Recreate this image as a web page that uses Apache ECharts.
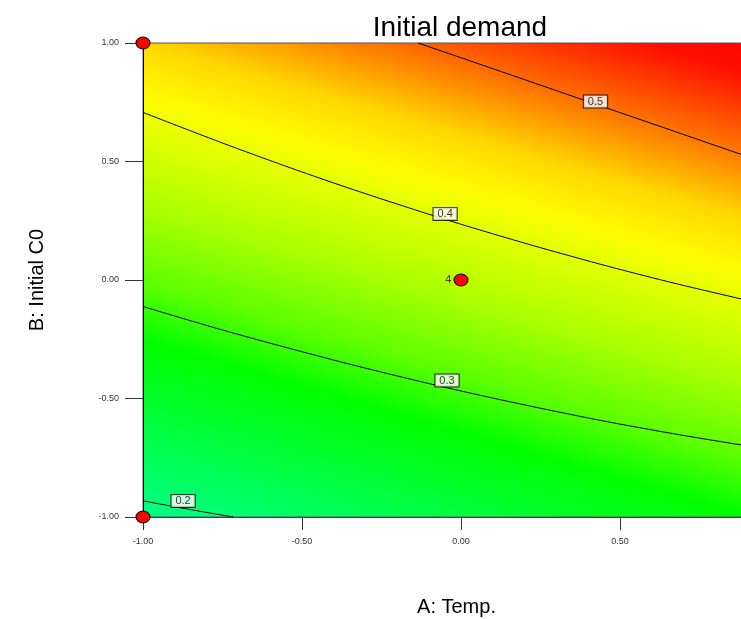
<!DOCTYPE html>
<html>
<head>
<meta charset="utf-8">
<script src="https://cdn.jsdelivr.net/npm/echarts@6/dist/echarts.min.js"></script>
<style>html,body{margin:0;padding:0;background:#fff;}#c{width:741px;height:619px;}</style>
</head>
<body>
<div id="c"></div>
<script>
// Axis ticks (coded factor levels)
var axisMin = -1, axisMax = 1, axisStep = 0.5;

// Contour lines: [A: Temp., B: Initial C0]
var contour05 = [[-0.135, 1.000], [0.123, 0.881], [0.425, 0.741], [0.689, 0.619], [0.881, 0.530], [1.0, 0.475]];
var contour04 = [[-1.0, 0.707], [-0.758, 0.582], [-0.538, 0.474], [-0.318, 0.372], [-0.050, 0.256], [0.186, 0.161], [0.437, 0.067], [0.657, -0.009], [0.881, -0.080], [1.0, -0.116]];
var contour03 = [[-1.0, -0.112], [-0.758, -0.208], [-0.538, -0.289], [-0.318, -0.366], [-0.050, -0.453], [0.186, -0.523], [0.437, -0.592], [0.657, -0.646], [0.881, -0.696], [1.0, -0.721]];
var contour02 = [[-1.0, -0.932], [-0.858, -0.967], [-0.716, -1.0]];

// Contour labels: [A, B, text]
var contourLabels = [[0.423, 0.753, '0.5'], [-0.050, 0.279, '0.4'], [-0.044, -0.424, '0.3'], [-0.874, -0.932, '0.2']];

// Design points: [A, B, replicate label]
var designPoints = [[-1, 1, ''], [-1, -1, ''], [0, 0, '4'], [1, 1, ''], [1, -1, '']];

var FONT = 'Liberation Sans, Arial, sans-serif';
var chart = echarts.init(document.getElementById('c'));

function lineSeries(d) {
  return {
    type: 'line', data: d, smooth: 0.3, showSymbol: false, symbol: 'none',
    lineStyle: {color: '#000', width: 1}, silent: true, z: 3, clip: true
  };
}

var bg = new echarts.graphic.LinearGradient(0.36, 1.1475, 0.6405, -0.1495, [
  {offset: 0.00, color: 'rgb(0,255,140)'},
  {offset: 0.19, color: 'rgb(0,255,40)'},
  {offset: 0.27, color: 'rgb(0,255,0)'},
  {offset: 0.355, color: 'rgb(90,255,0)'},
  {offset: 0.47, color: 'rgb(170,255,0)'},
  {offset: 0.60, color: 'rgb(235,255,0)'},
  {offset: 0.64, color: 'rgb(255,250,0)'},
  {offset: 0.716, color: 'rgb(255,215,0)'},
  {offset: 0.823, color: 'rgb(255,110,0)'},
  {offset: 0.933, color: 'rgb(255,15,0)'},
  {offset: 1.00, color: 'rgb(255,0,0)'}
]);

var option = {
  animation: false,
  backgroundColor: '#fff',
  textStyle: {fontFamily: FONT},
  title: {
    text: 'Initial demand', left: 455, top: 9, textAlign: 'center',
    textStyle: {fontSize: 28, fontWeight: 'normal', color: '#000', fontFamily: FONT}
  },
  grid: {
    left: 143, top: 43, width: 636, height: 474, show: true,
    outerBoundsMode: 'none', containLabel: false,
    backgroundColor: bg, borderColor: '#555', borderWidth: 1
  },
  xAxis: {
    type: 'value', min: axisMin, max: axisMax, interval: axisStep,
    name: 'A: Temp.', nameLocation: 'middle', nameGap: 80,
    nameTextStyle: {fontSize: 20, color: '#000', fontFamily: FONT, padding: [0, 9, 0, 0]},
    axisLine: {show: true, onZero: false, lineStyle: {color: '#444', width: 1}},
    axisTick: {show: true, length: 13, lineStyle: {color: '#333'}},
    axisLabel: {fontSize: 9, color: '#333', margin: 20, formatter: function (v) { return v.toFixed(2); }},
    splitLine: {show: false}
  },
  yAxis: {
    type: 'value', min: axisMin, max: axisMax, interval: axisStep,
    name: 'B: Initial C0', nameLocation: 'middle', nameGap: 96, nameRotate: 90,
    nameTextStyle: {fontSize: 20, color: '#000', fontFamily: FONT},
    axisLine: {show: true, onZero: false, lineStyle: {color: '#000', width: 1}},
    axisTick: {show: true, length: 18, lineStyle: {color: '#333'}},
    axisLabel: {fontSize: 9, color: '#333', margin: 24, formatter: function (v) { return v.toFixed(2); }},
    splitLine: {show: false}
  },
  series: [
    lineSeries(contour05),
    lineSeries(contour04),
    lineSeries(contour03),
    lineSeries(contour02),
    {
      type: 'scatter', data: contourLabels, symbolSize: 0, silent: true, z: 4,
      label: {
        show: true, position: 'inside', formatter: function (p) { return p.data[2]; },
        fontSize: 11, color: '#000', backgroundColor: '#fff', borderColor: '#000', borderWidth: 1,
        padding: [1, 4, 0, 4], lineHeight: 11, fontFamily: FONT
      }
    },
    {
      type: 'scatter', data: designPoints, symbol: 'circle', symbolSize: [14, 12], clip: false, z: 5,
      itemStyle: {color: '#ff0000', borderColor: '#000', borderWidth: 1, opacity: 1},
      label: {
        show: true, position: 'left', distance: 2, formatter: function (p) { return p.data[2]; },
        fontSize: 11, color: '#333', fontFamily: FONT
      }
    }
  ]
};
chart.setOption(option);
</script>
</body>
</html>
